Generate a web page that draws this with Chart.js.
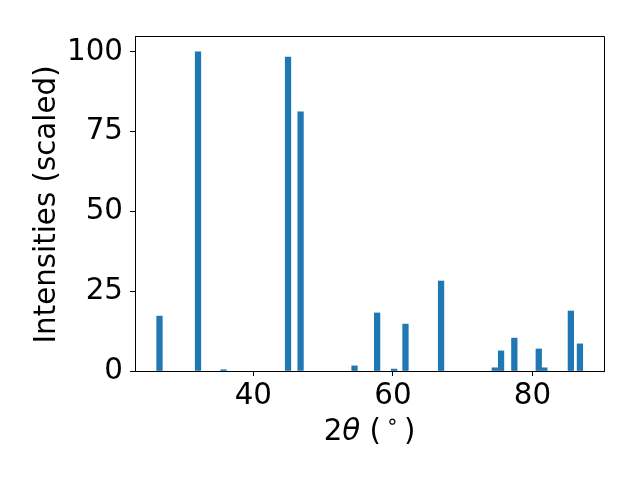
<!DOCTYPE html>
<html>
<head>
<meta charset="utf-8">
<script src="https://cdn.jsdelivr.net/npm/chart.js@4/dist/chart.umd.min.js"></script>
<style>
html, body { margin: 0; padding: 0; background: #fff; }
#wrap { width: 640px; height: 480px; }
</style>
</head>
<body>
<div id="wrap"><canvas id="c" width="640" height="480"></canvas></div>
<script>
// peak positions (2theta, deg) and scaled intensities
var twoTheta = [26.55, 32.07, 35.73, 44.97, 46.77, 54.5, 57.74, 60.17, 61.8, 66.9, 74.6, 75.5, 77.4, 80.9, 81.7, 85.5, 86.8];
var intensity = [17.2, 100, 0.4, 98.4, 81.2, 1.6, 18.2, 0.6, 14.7, 28.2, 1.0, 6.3, 10.3, 6.9, 1.0, 18.8, 8.5];
var xTicks = [40, 60, 80];
var yTicks = [0, 25, 50, 75, 100];

var FONT = 'DejaVu Sans';
var FS = 29.33;   // tick labels
var LS = 29.33;   // axis titles

var points = twoTheta.map(function(x, i) { return {x: x, y: intensity[i]}; });

// frame (top/right spines) and axis titles, matplotlib style
var decor = {
	id: 'decor',
	afterDraw: function(chart) {
		var ctx = chart.ctx;
		var a = chart.chartArea;
		ctx.save();
		ctx.strokeStyle = '#000';
		ctx.lineWidth = 1;
		ctx.beginPath();
		ctx.moveTo(Math.round(a.left) + 0.5, Math.round(a.top) + 0.5);
		ctx.lineTo(Math.round(a.right) + 0.5, Math.round(a.top) + 0.5);
		ctx.lineTo(Math.round(a.right) + 0.5, Math.round(a.bottom) + 0.5);
		ctx.stroke();

		ctx.fillStyle = '#000';
		ctx.textBaseline = 'alphabetic';
		// x title: 2θ (°) with italic theta
		var parts = [
			{t: '2', f: LS + 'px "' + FONT + '"', dy: 0},
			{t: 'θ', f: 'italic ' + LS + 'px "' + FONT + '"', dy: 0},
			{t: ' (', f: LS + 'px "' + FONT + '"', dy: 0},
			{t: '∘', f: (LS * 0.7) + 'px "' + FONT + '"', dy: -12},
			{t: ')', f: LS + 'px "' + FONT + '"', dy: 0}
		];
		var gap = 5;
		var total = 0;
		parts.forEach(function(p) { ctx.font = p.f; p.w = ctx.measureText(p.t).width; total += p.w; });
		total += 2 * gap;
		var x = (a.left + a.right) / 2 - total / 2;
		var base = 440;
		ctx.textAlign = 'left';
		parts.forEach(function(p, i) {
			ctx.font = p.f;
			if (i === 3) x += gap;
			ctx.fillText(p.t, x, base + p.dy);
			x += p.w;
			if (i === 3) x += gap;
		});

		// y title
		ctx.translate(55, (a.top + a.bottom) / 2 + 1);
		ctx.rotate(-Math.PI / 2);
		ctx.font = LS + 'px "' + FONT + '"';
		ctx.textAlign = 'center';
		ctx.fillText('Intensities (scaled)', 0, 0);
		ctx.restore();
	}
};

new Chart(document.getElementById('c'), {
	type: 'bar',
	data: {
		datasets: [{
			data: points,
			backgroundColor: '#1f77b4',
			borderWidth: 0,
			barThickness: 5.6
		}]
	},
	options: {
		responsive: false,
		animation: false,
		devicePixelRatio: 1,
		layout: {padding: {left: 0, top: 36, right: 36, bottom: 0}},
		plugins: {legend: {display: false}, tooltip: {enabled: false}},
		scales: {
			x: {
				type: 'linear',
				offset: false,
				min: 23.04,
				max: 90.25,
				afterBuildTicks: function(s) { s.ticks = xTicks.map(function(v) { return {value: v}; }); },
				afterFit: function(s) { s.height = 109; },
				grid: {offset: false, drawOnChartArea: false, color: '#000', tickLength: 5, tickWidth: 1},
				border: {display: true, color: '#000', width: 1},
				ticks: {color: '#000', font: {family: FONT, size: FS}, padding: 3, maxRotation: 0}
			},
			y: {
				min: 0,
				max: 105,
				afterBuildTicks: function(s) { s.ticks = yTicks.map(function(v) { return {value: v}; }); },
				afterFit: function(s) { s.width = 135; },
				grid: {drawOnChartArea: false, color: '#000', tickLength: 5, tickWidth: 1},
				border: {display: true, color: '#000', width: 1},
				ticks: {color: '#000', font: {family: FONT, size: FS}, padding: 7}
			}
		}
	},
	plugins: [decor]
});
</script>
</body>
</html>
